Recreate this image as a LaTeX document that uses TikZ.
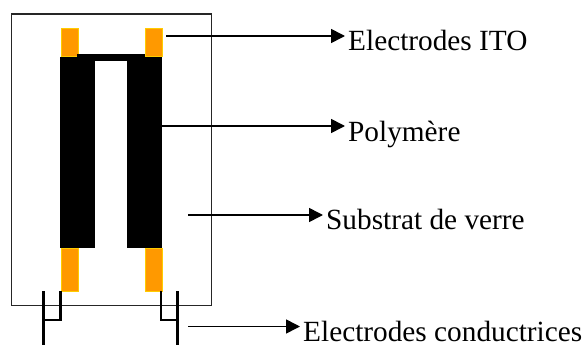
\documentclass[tikz,border=0pt]{standalone}
\usepackage{fontspec}
\setmainfont{Liberation Serif}
\usetikzlibrary{arrows.meta,positioning}
\definecolor{itoorange}{RGB}{255,153,0}
\definecolor{itoedge}{RGB}{255,204,0}

\begin{document}
\begin{tikzpicture}[x=1pt,y=-1pt,
  font=\fontsize{29.3}{32}\selectfont,
  ito/.style={draw=itoedge, line width=1.3pt, fill=itoorange, minimum width=17pt, inner sep=0pt, anchor=north west},
  poly/.style={fill=black, inner sep=0pt, anchor=north west},
  wire/.style={line width=2.6pt, draw=black},
  arr/.style={-{Triangle[length=14pt,width=14pt]}, line width=1.6pt},
  lbl/.style={anchor=base west, inner sep=0pt}
]
\useasboundingbox (0,0) rectangle (588,345);
% substrate
\node[draw=black!85, line width=1.3pt, minimum width=200.5pt, minimum height=291.5pt, inner sep=0pt, anchor=north west] (verre) at (10.5,13.5) {};
% electrodes ITO
\node[ito, minimum height=28pt] (itoa) at (60.5,28) {};
\node[ito, minimum height=28pt] (itob) at (144.5,28) {};
\node[ito, minimum height=43pt] (itoc) at (60.5,248) {};
\node[ito, minimum height=43pt] (itod) at (144.5,248) {};
% polymere
\node[poly, minimum width=35pt, minimum height=191pt] (polya) at (60,57) {};
\node[poly, minimum width=35pt, minimum height=191pt] (polyb) at (127,57) {};
\node[poly, minimum width=68pt, minimum height=7.5pt] (polyc) at (77,53.5) {};
% electrodes conductrices
\coordinate (wa) at (43.5,291);
\coordinate (wb) at (60.5,291);
\coordinate (wc) at (161,291);
\coordinate (wd) at (177.5,291);
\coordinate (wae) at (43.5,345);
\coordinate (wde) at (177.5,345);
\draw[wire] (wa) -- (wae);
\draw[wire] (wd) -- (wde);
\draw[wire] (wb) |- (43.5,320);
\draw[wire] (wc) |- (177.5,320);
% legende
\node[lbl] (lito) at (348,51) {Electrodes ITO};
\node[lbl] (lpoly) at (348,141) {Polymère};
\node[lbl] (lverre) at (326,229.5) {Substrat de verre};
\node[lbl] (lcond) at (303,341) {Electrodes conductrices};
\coordinate (sito) at (166,36);
\coordinate (spoly) at (161,126);
\coordinate (sverre) at (188,215);
\coordinate (scond) at (188,326.5);
\draw[arr] (sito) -- (345,36);
\draw[arr] (spoly) -- (345,126);
\draw[arr] (sverre) -- (323,215);
\draw[arr] (scond) -- (300,326.5);
\end{tikzpicture}
\end{document}
